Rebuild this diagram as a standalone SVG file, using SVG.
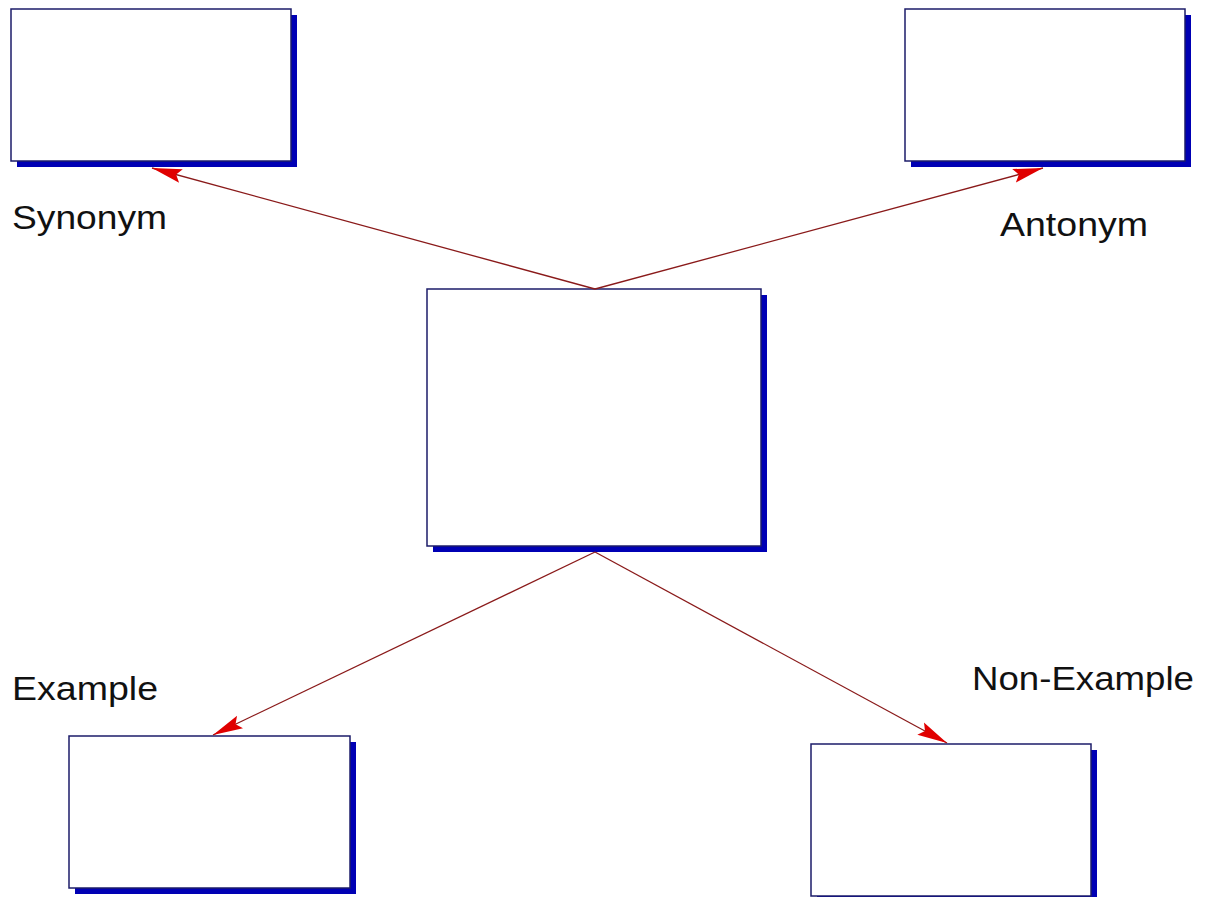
<svg xmlns="http://www.w3.org/2000/svg" width="1207" height="897" viewBox="0 0 1207 897">
<style>
.shadow{fill:#0000b4;}
.box{fill:#ffffff;stroke:#1c1c6a;stroke-width:1.5;}
.conn{stroke:#8a1a1a;stroke-width:1.3;fill:none;marker-end:url(#arr);}
.lbl{font-family:"Liberation Sans",Arial,sans-serif;font-size:33px;fill:#111111;}
</style>
<defs>
<marker id="arr" markerUnits="userSpaceOnUse" markerWidth="31" markerHeight="15" viewBox="0 0 31 15" refX="30" refY="7.5" orient="auto">
<path d="M0,0.5 L30,7.5 L0,14.5 L5,7.5 z" fill="#e00000"/>
</marker>
</defs>
<rect width="1207" height="897" fill="#ffffff"/>
<g id="node-synonym">
<rect class="shadow" x="17" y="15" width="280" height="152"/>
<rect class="box" x="11" y="9" width="280" height="152"/>
</g>
<g id="node-antonym">
<rect class="shadow" x="911" y="15" width="280" height="152"/>
<rect class="box" x="905" y="9" width="280" height="152"/>
</g>
<g id="node-center">
<rect class="shadow" x="433" y="295" width="334" height="257"/>
<rect class="box" x="427" y="289" width="334" height="257"/>
</g>
<g id="node-example">
<rect class="shadow" x="75" y="742" width="281" height="152"/>
<rect class="box" x="69" y="736" width="281" height="152"/>
</g>
<g id="node-nonexample">
<rect class="shadow" x="817" y="750" width="280" height="152"/>
<rect class="box" x="811" y="744" width="280" height="152"/>
</g>
<g id="connectors">
<line class="conn" x1="595" y1="289" x2="152" y2="168"/>
<line class="conn" x1="595" y1="289" x2="1043" y2="168"/>
<line class="conn" x1="595" y1="552" x2="213" y2="735"/>
<line class="conn" x1="595" y1="552" x2="947" y2="743"/>
</g>
<g id="labels">
<text class="lbl" x="12" y="229" textLength="155" lengthAdjust="spacingAndGlyphs">Synonym</text>
<text class="lbl" x="1000" y="236" textLength="148" lengthAdjust="spacingAndGlyphs">Antonym</text>
<text class="lbl" x="12" y="700" textLength="146" lengthAdjust="spacingAndGlyphs">Example</text>
<text class="lbl" x="972" y="690" textLength="222" lengthAdjust="spacingAndGlyphs">Non-Example</text>
</g>
</svg>
